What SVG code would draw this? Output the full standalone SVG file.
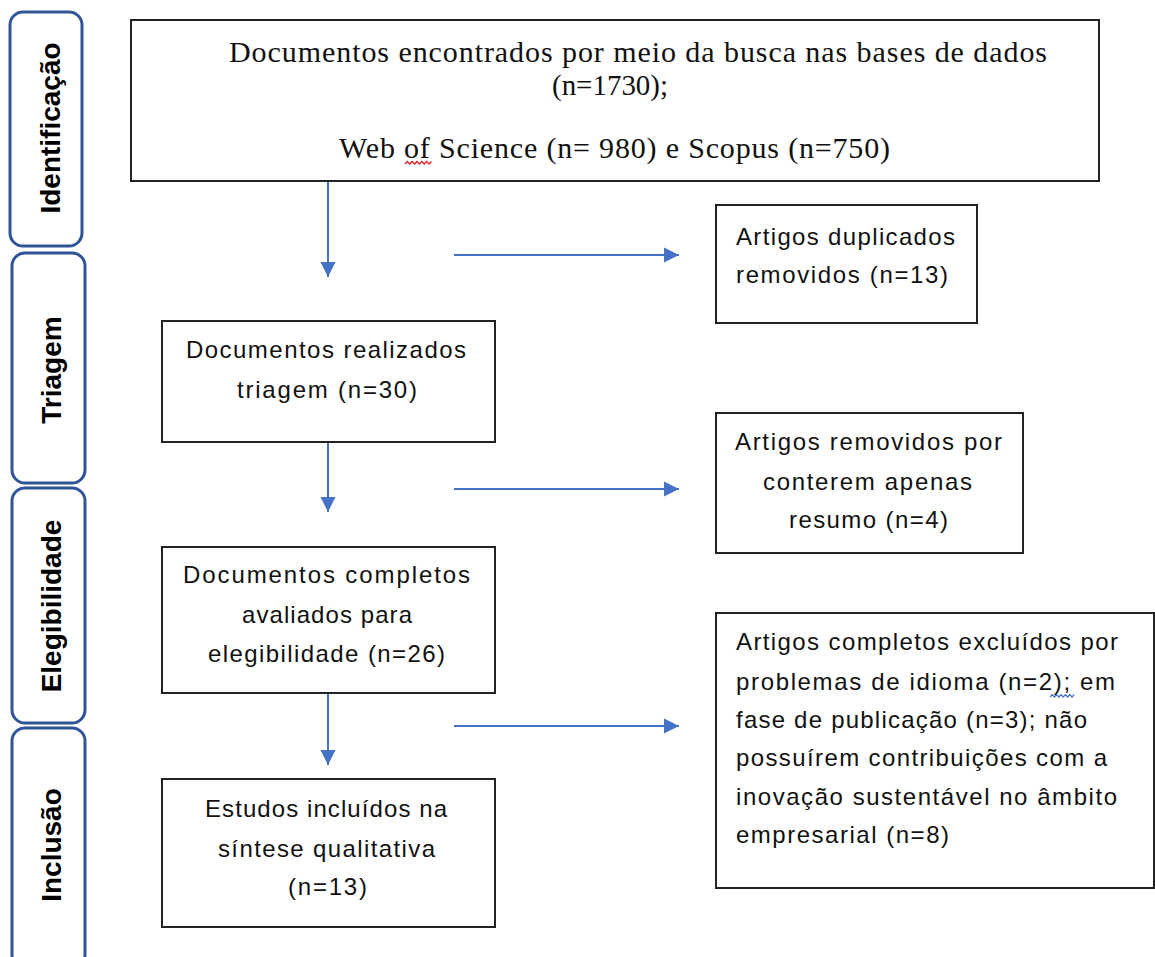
<svg xmlns="http://www.w3.org/2000/svg" width="1155" height="957" viewBox="0 0 1155 957">
<defs>
<style>
.stage{fill:#fff;stroke:#2F5597;stroke-width:3}
.stxt{font-family:"Liberation Sans",Arial,sans-serif;font-weight:bold;font-size:28px;fill:#000;text-anchor:middle}
.box{fill:#fff;stroke:#222;stroke-width:2}
.serif{font-family:"Liberation Serif","Times New Roman",serif;font-size:30px;fill:#111}
.sans{font-family:"Liberation Sans",Arial,sans-serif;font-size:24px;fill:#111}
.conn{stroke:#4472C4;stroke-width:2;fill:none}
</style>
<marker id="ah" markerUnits="userSpaceOnUse" markerWidth="16" markerHeight="16" viewBox="0 0 16 16" refX="15" refY="8" orient="auto">
<path d="M0,0.5 L15,8 L0,15.5 Z" fill="#4472C4"/>
</marker>
</defs>
<rect width="1155" height="957" fill="#fff"/>

<g id="stage-identificacao">
<rect class="stage" x="10" y="12" width="72" height="234" rx="13"/>
<text class="stxt" transform="translate(60,128) rotate(-90)">Identificação</text>
</g>
<g id="stage-triagem">
<rect class="stage" x="12" y="253" width="73" height="230" rx="13"/>
<text class="stxt" transform="translate(61,370) rotate(-90)">Triagem</text>
</g>
<g id="stage-elegibilidade">
<rect class="stage" x="12" y="488" width="73" height="235" rx="13"/>
<text class="stxt" transform="translate(61,606) rotate(-90)">Elegibilidade</text>
</g>
<g id="stage-inclusao">
<rect class="stage" x="12" y="728" width="73" height="240" rx="13"/>
<text class="stxt" transform="translate(61,845) rotate(-90)">Inclusão</text>
</g>

<g id="n-documentos-encontrados">
<rect class="box" x="131" y="20" width="968" height="161"/>
<text class="serif" x="229" y="62" textLength="818" lengthAdjust="spacing">Documentos encontrados por meio da busca nas bases de dados</text>
<text class="serif" x="552" y="95" textLength="116" lengthAdjust="spacingAndGlyphs">(n=1730);</text>
<text class="serif" x="339" y="158" textLength="551" lengthAdjust="spacing">Web of Science (n= 980) e Scopus (n=750)</text>
<path d="M405,164 l2.4,-2.5 l2.4,2.5 l2.4,-2.5 l2.4,2.5 l2.4,-2.5 l2.4,2.5 l2.4,-2.5 l2.4,2.5 l2.4,-2.5 l2.4,2.5 l2.4,-2.5" fill="none" stroke="#e02020" stroke-width="1.3"/>
</g>

<g id="n-artigos-duplicados">
<rect class="box" x="716" y="205" width="261" height="118"/>
<text class="sans" x="736" y="245" textLength="219" lengthAdjust="spacing">Artigos duplicados</text>
<text class="sans" x="736" y="283" textLength="212" lengthAdjust="spacing">removidos (n=13)</text>
</g>

<g id="n-documentos-triagem">
<rect class="box" x="162" y="321" width="333" height="121"/>
<text class="sans" x="186" y="358" textLength="280" lengthAdjust="spacing">Documentos realizados</text>
<text class="sans" x="237" y="398" textLength="180" lengthAdjust="spacing">triagem (n=30)</text>
</g>

<g id="n-artigos-removidos">
<rect class="box" x="716" y="413" width="307" height="140"/>
<text class="sans" x="735" y="450" textLength="267" lengthAdjust="spacing">Artigos removidos por</text>
<text class="sans" x="763" y="490" textLength="209" lengthAdjust="spacing">conterem apenas</text>
<text class="sans" x="789" y="528" textLength="159" lengthAdjust="spacing">resumo (n=4)</text>
</g>

<g id="n-documentos-completos">
<rect class="box" x="162" y="547" width="333" height="146"/>
<text class="sans" x="183" y="583" textLength="287" lengthAdjust="spacing">Documentos completos</text>
<text class="sans" x="242" y="623" textLength="170" lengthAdjust="spacing">avaliados para</text>
<text class="sans" x="208" y="662" textLength="237" lengthAdjust="spacing">elegibilidade (n=26)</text>
</g>

<g id="n-artigos-excluidos">
<rect class="box" x="716" y="613" width="438" height="275"/>
<text class="sans" x="736" y="650" textLength="382" lengthAdjust="spacing">Artigos completos excluídos por</text>
<text class="sans" x="736" y="690" textLength="379" lengthAdjust="spacing">problemas de idioma (n=2); em</text>
<text class="sans" x="736" y="728" textLength="351" lengthAdjust="spacing">fase de publicação  (n=3); não</text>
<text class="sans" x="736" y="766" textLength="371" lengthAdjust="spacing">possuírem contribuições com  a</text>
<text class="sans" x="736" y="805" textLength="381" lengthAdjust="spacing">inovação sustentável no âmbito</text>
<text class="sans" x="736" y="843" textLength="213" lengthAdjust="spacing">empresarial (n=8)</text>
<path d="M1050,697 l2.2,-2.4 l2.2,2.4 l2.2,-2.4 l2.2,2.4 l2.2,-2.4 l2.2,2.4 l2.2,-2.4 l2.2,2.4 l2.2,-2.4 l2.2,2.4 l2.2,-2.4" fill="none" stroke="#4472C4" stroke-width="1.3"/>
</g>

<g id="n-estudos-incluidos">
<rect class="box" x="162" y="779" width="333" height="148"/>
<text class="sans" x="205" y="817" textLength="242" lengthAdjust="spacing">Estudos incluídos na</text>
<text class="sans" x="218" y="857" textLength="217" lengthAdjust="spacing">síntese qualitativa</text>
<text class="sans" x="288" y="895" textLength="79" lengthAdjust="spacing">(n=13)</text>
</g>

<g id="connectors">
<line class="conn" x1="328" y1="182" x2="328" y2="277" marker-end="url(#ah)"/>
<line class="conn" x1="454" y1="255" x2="679" y2="255" marker-end="url(#ah)"/>
<line class="conn" x1="328" y1="443" x2="328" y2="512" marker-end="url(#ah)"/>
<line class="conn" x1="454" y1="489" x2="679" y2="489" marker-end="url(#ah)"/>
<line class="conn" x1="328" y1="694" x2="328" y2="765" marker-end="url(#ah)"/>
<line class="conn" x1="454" y1="726" x2="679" y2="726" marker-end="url(#ah)"/>
</g>
</svg>
